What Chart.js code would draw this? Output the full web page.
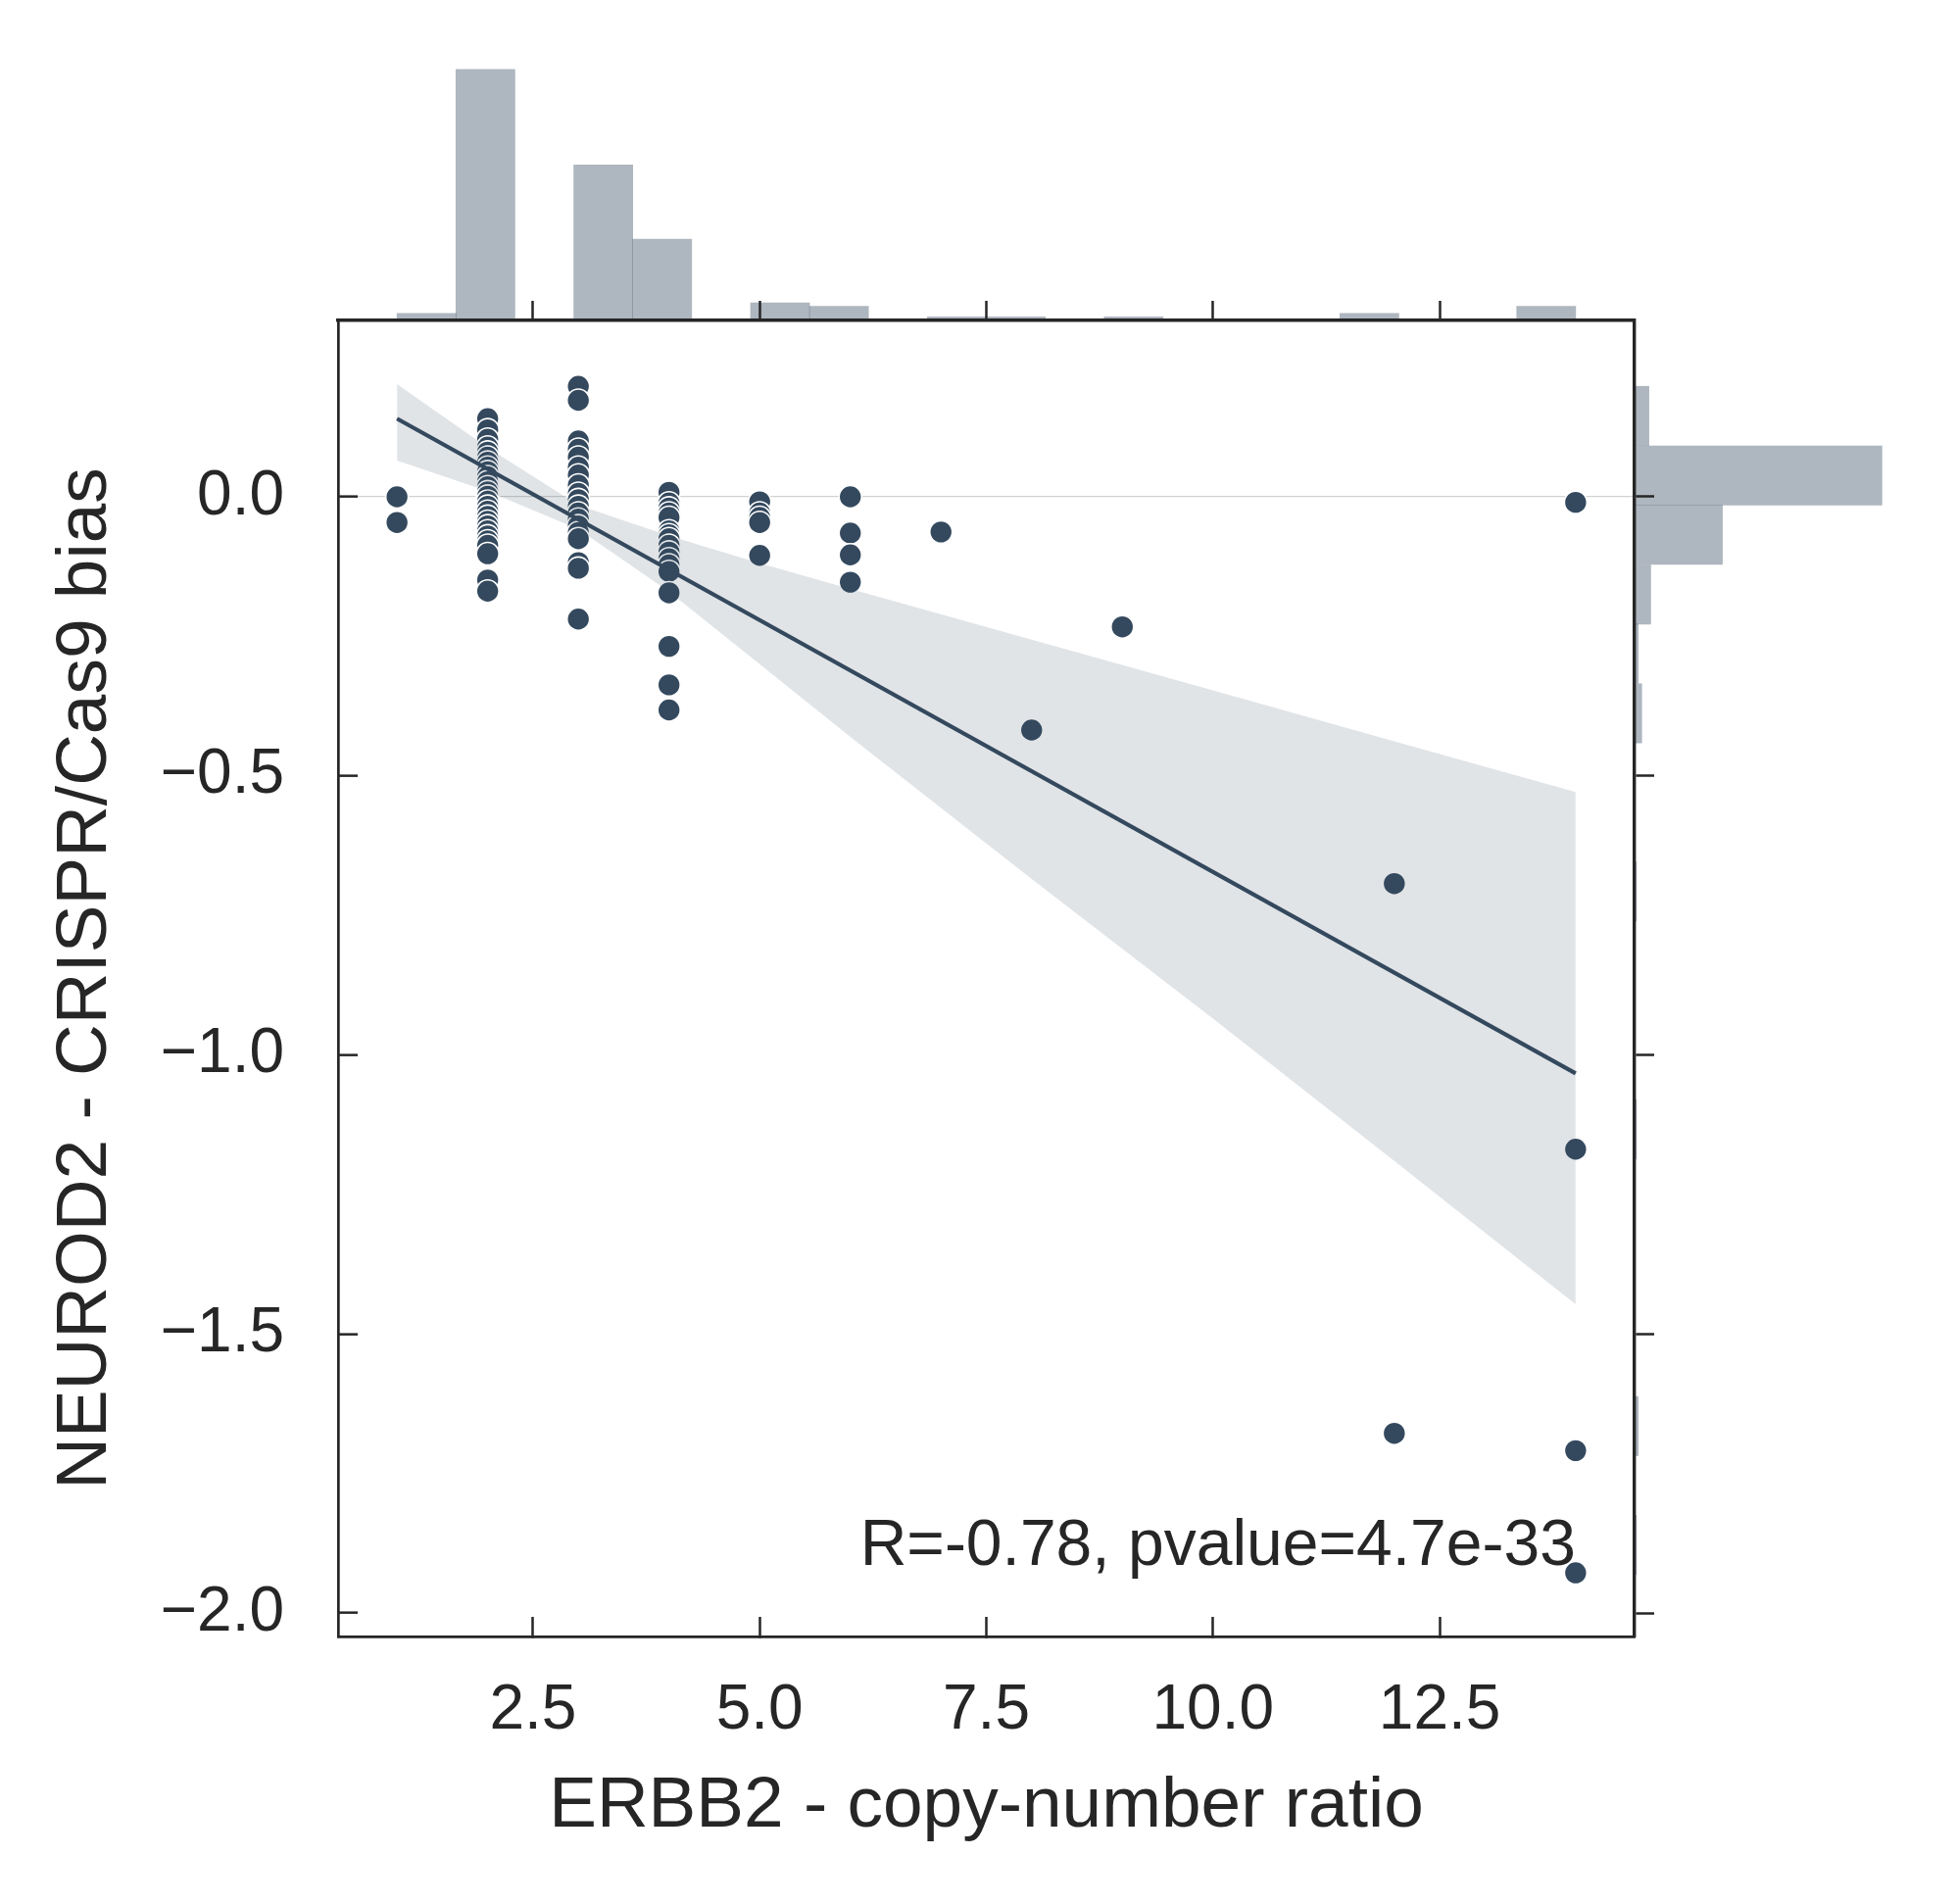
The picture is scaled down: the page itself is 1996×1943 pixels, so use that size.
<!DOCTYPE html>
<html>
<head>
<meta charset="utf-8">
<script src="https://cdn.jsdelivr.net/npm/chart.js@4.4.0/dist/chart.umd.min.js"></script>
<style>
  html, body { margin: 0; padding: 0; background: #ffffff; overflow: hidden; }
  #wrap { position: relative; width: 1996px; height: 1943px; }
  canvas { position: absolute; }
  #topHist { left: 345px; top: 58px; }
  #rightHist { left: 1668px; top: 327px; }
  #main { left: 0; top: 0; }
</style>
</head>
<body>
<div id="wrap">
  <canvas id="topHist" width="1323" height="269"></canvas>
  <canvas id="rightHist" width="265" height="1343"></canvas>
  <canvas id="main" width="1996" height="1943"></canvas>
</div>
<script>
const xLabel = 'ERBB2 - copy-number ratio';
const yLabel = 'NEUROD2 - CRISPR/Cas9 bias';
const statText = 'R=-0.78, pvalue=4.7e-33';

const copyNumber = [
  1, 1,
  2, 2, 2, 2, 2, 2, 2, 2, 2, 2, 2, 2, 2, 2, 2, 2, 2, 2, 2, 2, 2, 2, 2, 2, 2, 2, 2,
  3, 3, 3, 3, 3, 3, 3, 3, 3, 3, 3, 3, 3, 3, 3, 3, 3, 3, 3,
  4, 4, 4, 4, 4, 4, 4, 4, 4, 4, 4, 4, 4, 4, 4, 4, 4,
  5, 5, 5, 5, 5,
  6, 6, 6, 6,
  7, 8, 9,
  12, 12,
  14, 14, 14, 14
];
const bias = [
  0.000, -0.046,
  0.140, 0.120, 0.103, 0.089, 0.080, 0.071, 0.062, 0.053, 0.045, 0.036, 0.027, 0.018, 0.009, 0.001,
  -0.008, -0.017, -0.026, -0.035, -0.044, -0.052, -0.061, -0.070, -0.079, -0.087, -0.102, -0.149, -0.169,
  0.198, 0.173, 0.100, 0.085, 0.071, 0.053, 0.039, 0.021, 0.006, -0.005, -0.017, -0.029, -0.040,
  -0.052, -0.064, -0.075, -0.118, -0.128, -0.219,
  0.008, -0.011, -0.020, -0.029, -0.037, -0.061, -0.068, -0.075, -0.087, -0.099, -0.111, -0.122,
  -0.134, -0.172, -0.268, -0.337, -0.382,
  -0.009, -0.029, -0.037, -0.046, -0.105,
  0.000, -0.065, -0.104, -0.153,
  -0.063, -0.418, -0.233,
  -0.693, -1.678,
  -0.010, -1.169, -1.709, -1.928
];

const fitX = [1, 14];
const fitY = [0.140, -1.033];
const bandX = [1, 2, 3, 4, 5, 6, 8, 10, 12, 14];
const bandUpper = [0.202, 0.088, -0.015, -0.070, -0.119, -0.165, -0.256, -0.347, -0.438, -0.529];
const bandLower = [0.065, 0.010, -0.058, -0.170, -0.300, -0.430, -0.685, -0.935, -1.190, -1.447];

const topBins = [1.325, 1.975, 2.625, 3.275, 3.925, 4.575, 5.225, 5.875, 6.525, 7.175,
  7.825, 8.475, 9.125, 9.775, 10.425, 11.075, 11.725, 12.375, 13.025, 13.675];
const topCounts = [2, 71, 0, 44, 23, 0, 5, 4, 0, 1, 1, 0, 1, 0, 0, 0, 2, 0, 0, 4];

const rightBins = [-1.878, -1.771, -1.665, -1.558, -1.452, -1.346, -1.239, -1.133, -1.026, -0.920,
  -0.813, -0.707, -0.600, -0.494, -0.388, -0.281, -0.175, -0.068, 0.038, 0.145];
const rightCounts = [1, 0, 2, 0, 0, 0, 0, 1, 0, 0, 0, 1, 0, 0, 4, 2, 9, 49, 138, 8];

const statPos = [14, -1.928];

const X_MIN = 0.35, X_MAX = 14.65;
const Y_MIN = -2.042, Y_MAX = 0.316;

const ink = '#262626';
const dark = '#34495e';
const histColor = 'rgba(52, 73, 94, 0.4)';
const bandColor = 'rgba(52, 73, 94, 0.15)';
const fontFamily = '"Liberation Sans", Arial, sans-serif';

Chart.defaults.font.family = fontFamily;
Chart.defaults.color = ink;

const fmt = v => v.toFixed(1).replace('-', '\u2212');

new Chart(document.getElementById('topHist'), {
  type: 'bar',
  data: {
    datasets: [{
      data: topBins.map((b, i) => ({x: b, y: topCounts[i]})),
      backgroundColor: histColor,
      borderWidth: 0,
      barPercentage: 1,
      categoryPercentage: 1
    }]
  },
  options: {
    animation: false,
    responsive: false,
    layout: {padding: 0},
    plugins: {legend: {display: false}, tooltip: {enabled: false}},
    scales: {
      x: {type: 'linear', min: X_MIN, max: X_MAX, offset: false, display: false,
        ticks: {stepSize: 2.5, includeBounds: false}},
      y: {type: 'linear', min: 0, max: Math.max(...topCounts) * 1.05, display: false}
    }
  }
});

new Chart(document.getElementById('rightHist'), {
  type: 'bar',
  data: {
    datasets: [{
      data: rightBins.map((b, i) => ({y: b, x: rightCounts[i]})),
      backgroundColor: histColor,
      borderWidth: 0,
      barPercentage: 1,
      categoryPercentage: 1
    }]
  },
  options: {
    indexAxis: 'y',
    animation: false,
    responsive: false,
    layout: {padding: 0},
    plugins: {legend: {display: false}, tooltip: {enabled: false}},
    scales: {
      y: {type: 'linear', min: Y_MIN, max: Y_MAX, offset: false, display: false,
        ticks: {stepSize: 0.5, includeBounds: false}},
      x: {type: 'linear', min: 0, max: Math.max(...rightCounts) * 1.05, display: false}
    }
  }
});

const statLabel = {
  id: 'statLabel',
  beforeDatasetsDraw(chart) {
    const {ctx, scales} = chart;
    ctx.save();
    ctx.font = '66px ' + fontFamily;
    ctx.fillStyle = ink;
    ctx.textAlign = 'right';
    ctx.textBaseline = 'alphabetic';
    ctx.fillText(statText, scales.x.getPixelForValue(statPos[0]), scales.y.getPixelForValue(statPos[1]) - 8);
    ctx.restore();
  }
};

new Chart(document.getElementById('main'), {
  type: 'scatter',
  data: {
    datasets: [
      {
        data: copyNumber.map((c, i) => ({x: c, y: bias[i]})),
        backgroundColor: dark,
        borderColor: '#ffffff',
        borderWidth: 1.6,
        pointRadius: 11.5,
        order: 3,
        xAxisID: 'x', yAxisID: 'y'
      },
      {
        type: 'line',
        data: bandX.map((b, i) => ({x: b, y: bandUpper[i]})),
        borderWidth: 0,
        pointRadius: 0,
        fill: false,
        order: 2,
        xAxisID: 'x', yAxisID: 'y'
      },
      {
        type: 'line',
        data: bandX.map((b, i) => ({x: b, y: bandLower[i]})),
        borderWidth: 0,
        pointRadius: 0,
        fill: '-1',
        backgroundColor: bandColor,
        order: 2,
        xAxisID: 'x', yAxisID: 'y'
      },
      {
        type: 'line',
        data: fitX.map((f, i) => ({x: f, y: fitY[i]})),
        borderColor: dark,
        borderWidth: 4.2,
        pointRadius: 0,
        fill: false,
        order: 0,
        xAxisID: 'x', yAxisID: 'y'
      }
    ]
  },
  options: {
    animation: false,
    responsive: false,
    layout: {padding: 0},
    plugins: {legend: {display: false}, tooltip: {enabled: false}},
    scales: {
      x: {
        type: 'linear', position: 'bottom', min: X_MIN, max: X_MAX,
        ticks: {stepSize: 2.5, includeBounds: false, autoSkip: false, maxRotation: 0, minRotation: 0,
          padding: 64, color: ink, font: {size: 64, lineHeight: 1}, callback: fmt},
        grid: {drawOnChartArea: false, drawTicks: true, tickLength: -20, tickWidth: 2.5, tickColor: ink},
        border: {color: ink, width: 2.7},
        title: {display: true, text: xLabel, color: ink, font: {size: 73, lineHeight: 1}, padding: {top: 0, bottom: 63}},
        afterFit: s => { s.height = 273; }
      },
      y: {
        type: 'linear', position: 'left', min: Y_MIN, max: Y_MAX,
        ticks: {stepSize: 0.5, includeBounds: false, autoSkip: false,
          padding: 75, color: ink, font: {size: 64, lineHeight: 1}, callback: fmt},
        grid: {
          drawOnChartArea: true, drawTicks: true, tickLength: -20, tickWidth: 2.5, tickColor: ink, lineWidth: 1.3,
          color: c => (c.tick && Math.abs(c.tick.value) < 1e-9) ? '#d2d2d2' : 'rgba(0,0,0,0)'
        },
        border: {color: ink, width: 2.7},
        title: {display: true, text: yLabel, color: ink, font: {size: 73, lineHeight: 1}, padding: {top: 51, bottom: 0}},
        afterFit: s => { s.width = 345; }
      },
      x2: {
        type: 'linear', position: 'top', min: X_MIN, max: X_MAX,
        ticks: {display: false, stepSize: 2.5, includeBounds: false},
        grid: {drawOnChartArea: false, drawTicks: true, tickLength: 20, tickWidth: 2.5, tickColor: ink},
        border: {color: ink, width: 3.4},
        afterFit: s => { s.height = 327; }
      },
      y2: {
        type: 'linear', position: 'right', min: Y_MIN, max: Y_MAX,
        ticks: {display: false, stepSize: 0.5, includeBounds: false},
        grid: {drawOnChartArea: false, drawTicks: true, tickLength: 20, tickWidth: 2.5, tickColor: ink},
        border: {color: ink, width: 3.4},
        afterFit: s => { s.width = 328; }
      }
    }
  },
  plugins: [statLabel]
});
</script>
</body>
</html>
